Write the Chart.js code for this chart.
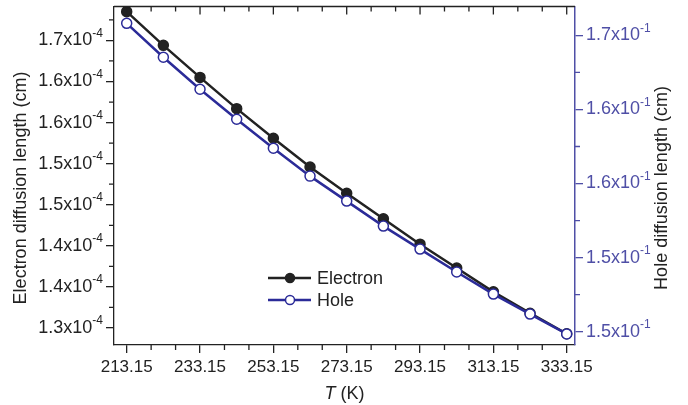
<!DOCTYPE html>
<html>
<head>
<meta charset="utf-8">
<script src="https://cdn.jsdelivr.net/npm/chart.js@4.4.1/dist/chart.umd.min.js"></script>
<style>
  html, body { margin: 0; padding: 0; background: #fff; }
  #wrap { width: 688px; height: 405px; }
</style>
</head>
<body>
<div id="wrap"><canvas id="chart1"></canvas></div>
<script>
// data
const temps = [213.15, 223.15, 233.15, 243.15, 253.15, 263.15, 273.15, 283.15, 293.15, 303.15, 313.15, 323.15, 333.15];
const electronLen = [1.685e-4, 1.644e-4, 1.605e-4, 1.567e-4, 1.531e-4, 1.496e-4, 1.464e-4, 1.433e-4, 1.402e-4, 1.373e-4, 1.344e-4, 1.318e-4, 1.293e-4];
const holeLen = [0.16665, 0.16482, 0.16309, 0.16147, 0.15991, 0.15840, 0.15705, 0.15570, 0.15446, 0.15322, 0.15203, 0.15095, 0.14988];

const xTicks = [213.15, 233.15, 253.15, 273.15, 293.15, 313.15, 333.15];
const xTickLabels = ["213.15", "233.15", "253.15", "273.15", "293.15", "313.15", "333.15"];
const leftTicks = [1.30e-4, 1.35e-4, 1.40e-4, 1.45e-4, 1.50e-4, 1.55e-4, 1.60e-4, 1.65e-4];
const leftTickLabels = ["1.3", "1.4", "1.4", "1.5", "1.5", "1.6", "1.6", "1.7"];
const rightTicks = [0.150, 0.154, 0.158, 0.162, 0.166];
const rightTickLabels = ["1.5", "1.5", "1.6", "1.6", "1.7"];

const FONT = "'Liberation Sans', Arial, sans-serif";
const INK = "#222";
const BLUE = "#2b2b98";
const AXBLUE = "#4f4fa6";

const extras = {
  id: "extras",
  afterDraw(chart) {
    const ctx = chart.ctx;
    const a = chart.chartArea;
    const sx = chart.scales.x, sl = chart.scales.y, sr = chart.scales.y2;
    ctx.save();

    // top frame line
    ctx.strokeStyle = INK;
    ctx.lineWidth = 1.3;
    ctx.beginPath();
    ctx.moveTo(a.left, a.top);
    ctx.lineTo(a.right, a.top);
    ctx.stroke();

    // x ticks: top (inward majors+minors), bottom minors
    ctx.beginPath();
    for (let i = 0; i < xTicks.length; i++) {
      const px = sx.getPixelForValue(xTicks[i]);
      ctx.moveTo(px, a.top); ctx.lineTo(px, a.top + 8);
      if (i < xTicks.length - 1) {
        const step = (xTicks[i + 1] - xTicks[i]) / 3;
        for (let k = 1; k <= 2; k++) {
          const mx = sx.getPixelForValue(xTicks[i] + k * step);
          ctx.moveTo(mx, a.top); ctx.lineTo(mx, a.top + 5);
          ctx.moveTo(mx, a.bottom); ctx.lineTo(mx, a.bottom + 5);
        }
      }
    }
    // left minors
    const lstep = (leftTicks[1] - leftTicks[0]) / 2;
    for (let i = 0; i < leftTicks.length; i++) {
      const v = leftTicks[i] + lstep;
      if (v <= sl.max) {
        const py = sl.getPixelForValue(v);
        ctx.moveTo(a.left, py); ctx.lineTo(a.left - 5, py);
      }
    }
    ctx.stroke();

    // right minors
    ctx.strokeStyle = AXBLUE;
    ctx.beginPath();
    const rstep = (rightTicks[1] - rightTicks[0]) / 2;
    for (let i = 0; i < rightTicks.length; i++) {
      const v = rightTicks[i] + rstep;
      if (v <= sr.max) {
        const py = sr.getPixelForValue(v);
        ctx.moveTo(a.right, py); ctx.lineTo(a.right + 5, py);
      }
    }
    ctx.stroke();

    // y tick labels with superscript exponent
    function sci(base, exp, x, y, alignRight, color) {
      ctx.fillStyle = color;
      ctx.textBaseline = "middle";
      ctx.textAlign = "left";
      ctx.font = "18px " + FONT;
      const wb = ctx.measureText(base).width;
      ctx.font = "12px " + FONT;
      const we = ctx.measureText(exp).width;
      const x0 = alignRight ? x - wb - we : x;
      ctx.font = "18px " + FONT;
      ctx.fillText(base, x0, y);
      ctx.font = "12px " + FONT;
      ctx.fillText(exp, x0 + wb, y - 7);
    }
    leftTicks.forEach((v, i) => {
      sci(leftTickLabels[i] + "x10", "-4", a.left - 11, sl.getPixelForValue(v), true, INK);
    });
    rightTicks.forEach((v, i) => {
      sci(rightTickLabels[i] + "x10", "-1", a.right + 11, sr.getPixelForValue(v), false, AXBLUE);
    });

    // axis titles
    ctx.fillStyle = INK;
    ctx.font = "18px " + FONT;
    ctx.textAlign = "center";
    ctx.textBaseline = "middle";
    ctx.save();
    ctx.translate(21, 188);
    ctx.rotate(-Math.PI / 2);
    ctx.fillText("Electron diffusion length (cm)", 0, 0);
    ctx.restore();
    ctx.save();
    ctx.translate(662, 188);
    ctx.rotate(-Math.PI / 2);
    ctx.fillText("Hole diffusion length (cm)", 0, 0);
    ctx.restore();

    // "T (K)" with italic T
    const cx = (a.left + a.right) / 2;
    ctx.font = "italic 18px " + FONT;
    const wT = ctx.measureText("T").width;
    ctx.font = "18px " + FONT;
    const wK = ctx.measureText(" (K)").width;
    const tx = cx - (wT + wK) / 2;
    ctx.textAlign = "left";
    ctx.font = "italic 18px " + FONT;
    ctx.fillText("T", tx, 394);
    ctx.font = "18px " + FONT;
    ctx.fillText(" (K)", tx + wT, 394);

    // legend
    const items = [
      { label: "Electron", y: 278, line: INK, fill: INK, stroke: INK },
      { label: "Hole", y: 300, line: BLUE, fill: "#fff", stroke: BLUE }
    ];
    items.forEach(it => {
      ctx.strokeStyle = it.line;
      ctx.lineWidth = 2.5;
      ctx.beginPath();
      ctx.moveTo(268, it.y); ctx.lineTo(311, it.y);
      ctx.stroke();
      ctx.beginPath();
      ctx.arc(290, it.y, 4.5, 0, Math.PI * 2);
      ctx.fillStyle = it.fill;
      ctx.fill();
      ctx.lineWidth = 1.5;
      ctx.strokeStyle = it.stroke;
      ctx.stroke();
      ctx.fillStyle = INK;
      ctx.font = "18px " + FONT;
      ctx.textAlign = "left";
      ctx.textBaseline = "middle";
      ctx.fillText(it.label, 317, it.y + 1);
    });

    ctx.restore();
  }
};

new Chart(document.getElementById("chart1"), {
  type: "line",
  data: {
    datasets: [
      {
        label: "Electron",
        data: temps.map((t, i) => ({ x: t, y: electronLen[i] })),
        yAxisID: "y",
        order: 1,
        borderColor: INK,
        borderWidth: 2.5,
        pointRadius: 5,
        pointBorderWidth: 1.5,
        pointBackgroundColor: INK,
        pointBorderColor: INK,
        tension: 0
      },
      {
        label: "Hole",
        data: temps.map((t, i) => ({ x: t, y: holeLen[i] })),
        yAxisID: "y2",
        order: 0,
        borderColor: BLUE,
        borderWidth: 2.5,
        pointRadius: 5,
        pointBorderWidth: 1.5,
        pointBackgroundColor: "#fff",
        pointBorderColor: BLUE,
        tension: 0
      }
    ]
  },
  options: {
    responsive: true,
    maintainAspectRatio: false,
    animation: false,
    devicePixelRatio: 1,
    layout: { padding: { top: 6, left: 0, right: 0, bottom: 0 } },
    plugins: { legend: { display: false }, tooltip: { enabled: false } },
    scales: {
      x: {
        type: "linear",
        min: 209.69,
        max: 335.41,
        afterBuildTicks: s => { s.ticks = xTicks.map(v => ({ value: v })); },
        afterFit: s => { s.height = 60; },
        grid: { drawOnChartArea: false, tickLength: 8, color: INK, lineWidth: 1.3 },
        border: { color: INK, width: 1.3 },
        ticks: {
          autoSkip: false, maxRotation: 0, padding: 4, color: INK,
          font: { family: FONT, size: 17 },
          callback: (v, i) => xTickLabels[i]
        }
      },
      y: {
        type: "linear",
        position: "left",
        min: 1.2793e-4,
        max: 1.6913e-4,
        afterBuildTicks: s => { s.ticks = leftTicks.map(v => ({ value: v })); },
        afterFit: s => { s.width = 114; },
        grid: { drawOnChartArea: false, tickLength: 8, color: INK, lineWidth: 1.3 },
        border: { color: INK, width: 1.3 },
        ticks: { display: false }
      },
      y2: {
        type: "linear",
        position: "right",
        min: 0.14928,
        max: 0.16756,
        afterBuildTicks: s => { s.ticks = rightTicks.map(v => ({ value: v })); },
        afterFit: s => { s.width = 113; },
        grid: { drawOnChartArea: false, tickLength: 8, color: AXBLUE, lineWidth: 1.3 },
        border: { color: AXBLUE, width: 1.5 },
        ticks: { display: false }
      }
    }
  },
  plugins: [extras]
});
</script>
</body>
</html>
